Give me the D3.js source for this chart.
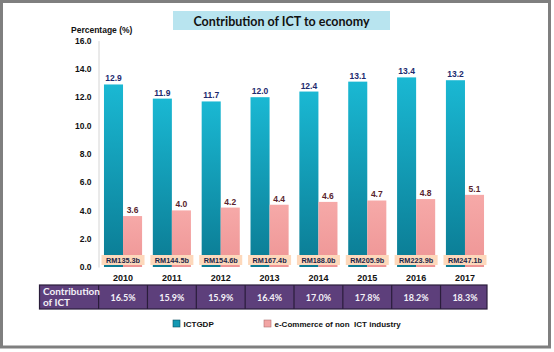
<!DOCTYPE html>
<html><head><meta charset="utf-8">
<script src="https://cdn.jsdelivr.net/npm/d3@7"></script>
<style>html,body{margin:0;padding:0;background:#fff;}svg{display:block;}</style>
</head><body>
<script>
const years = ["2010","2011","2012","2013","2014","2015","2016","2017"];
const ictgdp = [12.9,11.9,11.7,12.0,12.4,13.1,13.4,13.2];
const ecommerce = [3.6,4.0,4.2,4.4,4.6,4.7,4.8,5.1];
const rmLabels = ["RM135.3b","RM144.5b","RM154.6b","RM167.4b","RM188.0b","RM205.9b","RM223.9b","RM247.1b"];
const contribution = ["16.5%","15.9%","15.9%","16.4%","17.0%","17.8%","18.2%","18.3%"];
const yTicks = [0,2,4,6,8,10,12,14,16];
const seriesNames = ["ICTGDP","e-Commerce of non  ICT industry"];
const titleText = "Contribution of ICT to economy";
const yTitle = "Percentage (%)";
const rowTitle = ["Contribution","of ICT"];

const W = 554, H = 352;
const svg = d3.select("body").append("svg").attr("width", W).attr("height", H);
const defs = svg.append("defs");
const gT = defs.append("linearGradient").attr("id","gTeal").attr("x1",0).attr("y1",0).attr("x2",0).attr("y2",1);
gT.append("stop").attr("offset","0%").attr("stop-color","#1ab8d3");
gT.append("stop").attr("offset","100%").attr("stop-color","#0b7b93");
const gP = defs.append("linearGradient").attr("id","gPink").attr("x1",0).attr("y1",0).attr("x2",0).attr("y2",1);
gP.append("stop").attr("offset","0%").attr("stop-color","#f6a9a8");
gP.append("stop").attr("offset","100%").attr("stop-color","#ee9595");

svg.append("rect").attr("width",W).attr("height",H).attr("fill","#fff");
svg.append("rect").attr("x",1.5).attr("y",1.5).attr("width",548).attr("height",345.5)
  .attr("fill","none").attr("stroke","#7f7f7f").attr("stroke-width",3);

// title
svg.append("rect").attr("x",173).attr("y",11).attr("width",217).attr("height",19).attr("fill","#b8e4ef");
svg.append("text").attr("x",281.5).attr("y",25.5).attr("text-anchor","middle")
  .attr("font-family","Lato, 'Open Sans', sans-serif").attr("font-weight","bold").attr("font-size",13.5)
  .attr("textLength",176).attr("lengthAdjust","spacingAndGlyphs")
  .attr("fill","#111").text(titleText);

const x = d3.scaleBand().domain(years).range([98.6, 489.4]).paddingInner(0.22).paddingOuter(0.11);
const y = d3.scaleLinear().domain([0,16]).range([267, 40.6]);
const bw = x.bandwidth()/2;

// y axis
const yAxis = d3.axisLeft(y).tickValues(yTicks).tickFormat(d3.format(".1f")).tickSize(0).tickPadding(7);
const ya = svg.append("g").attr("transform","translate(98.5,0)").call(yAxis);
ya.select(".domain").attr("stroke","#d4d4d4").attr("stroke-width",1);
ya.selectAll("text").attr("font-family","'Liberation Sans', Arial, sans-serif").attr("font-weight","bold")
  .attr("font-size",8.5).attr("fill","#111");

svg.append("text").attr("x",71).attr("y",33).attr("font-family","'Liberation Sans', Arial, sans-serif")
  .attr("font-weight","bold").attr("font-size",8.5).attr("fill","#111").text(yTitle);

// bars
const g = svg.append("g");
g.selectAll("rect.t").data(years).join("rect").attr("class","t")
  .attr("x", d => x(d)).attr("width", bw)
  .attr("y", (d,i) => y(ictgdp[i])).attr("height", (d,i) => y(0) - y(ictgdp[i]))
  .attr("fill","url(#gTeal)");
g.selectAll("rect.p").data(years).join("rect").attr("class","p")
  .attr("x", d => x(d) + bw).attr("width", bw)
  .attr("y", (d,i) => y(ecommerce[i])).attr("height", (d,i) => y(0) - y(ecommerce[i]))
  .attr("fill","url(#gPink)");

g.selectAll("text.tv").data(years).join("text").attr("class","tv")
  .attr("x", d => x(d) + bw/2).attr("y", (d,i) => y(ictgdp[i]) - 3)
  .attr("text-anchor","middle").attr("font-family","'Liberation Sans', Arial, sans-serif")
  .attr("font-weight","bold").attr("font-size",8.5).attr("fill","#1d2a6e")
  .text((d,i) => d3.format(".1f")(ictgdp[i]));
g.selectAll("text.pv").data(years).join("text").attr("class","pv")
  .attr("x", d => x(d) + bw*1.5).attr("y", (d,i) => y(ecommerce[i]) - 3)
  .attr("text-anchor","middle").attr("font-family","'Liberation Sans', Arial, sans-serif")
  .attr("font-weight","bold").attr("font-size",8.5).attr("fill","#5a1f2e")
  .text((d,i) => d3.format(".1f")(ecommerce[i]));

// RM boxes
g.selectAll("rect.rm").data(years).join("rect").attr("class","rm")
  .attr("x", d => x(d) + bw - 21.5).attr("width", 43)
  .attr("y", 255).attr("height", 10).attr("fill","#fdd8bb");
g.selectAll("text.rm").data(years).join("text").attr("class","rm")
  .attr("x", d => x(d) + bw).attr("y", 263)
  .attr("text-anchor","middle").attr("font-family","'Liberation Sans', Arial, sans-serif")
  .attr("font-weight","bold").attr("font-size",7.3).attr("fill","#1c2547")
  .text((d,i) => rmLabels[i]);

// x labels
g.selectAll("text.yr").data(years).join("text").attr("class","yr")
  .attr("x", d => x(d) + bw).attr("y", 280.5)
  .attr("text-anchor","middle").attr("font-family","'Liberation Sans', Arial, sans-serif")
  .attr("font-weight","bold").attr("font-size",9).attr("fill","#111").text(d => d);

// table
const tTop = 285, tH = 24;
const step = x.step();
const tb = svg.append("g");
tb.append("rect").attr("x",39.5).attr("y",tTop).attr("width",487 - 39.5).attr("height",tH)
  .attr("fill","#5d3f7b").attr("stroke","#2a1d3b").attr("stroke-width",1.2);
tb.selectAll("line.div").data(years).join("line").attr("class","div")
  .attr("x1", d => x(d) + bw - step/2).attr("x2", d => x(d) + bw - step/2)
  .attr("y1", tTop).attr("y2", tTop + tH).attr("stroke","#2a1d3b").attr("stroke-width",1.2);
tb.selectAll("text.rt").data(rowTitle).join("text").attr("class","rt")
  .attr("x",43).attr("y",(d,i) => tTop + 10 + i*11)
  .attr("font-family","Lato, 'Open Sans', sans-serif").attr("font-weight","bold")
  .attr("font-size",10).attr("fill","#f3f0f7").text(d => d);
tb.selectAll("text.cv").data(years).join("text").attr("class","cv")
  .attr("x", d => x(d) + bw).attr("y", tTop + 15.5)
  .attr("text-anchor","middle").attr("font-family","Lato, 'Open Sans', sans-serif")
  .attr("font-weight","bold").attr("font-size",9).attr("fill","#f3f0f7")
  .text((d,i) => contribution[i]);

// legend
const lg = svg.append("g");
const legX = [173, 264];
const legFill = ["#1499b3", "#f2a5a4"];
const legStroke = ["#0b4f60", "#b07070"];
seriesNames.forEach((n,i) => {
  lg.append("rect").attr("x",legX[i]).attr("y",320).attr("width",7).attr("height",7)
    .attr("fill",legFill[i]).attr("stroke",legStroke[i]).attr("stroke-width",0.6);
  lg.append("text").attr("x",legX[i] + 10.5).attr("y",326.5)
    .attr("font-family","'Liberation Sans', Arial, sans-serif").attr("font-weight","bold")
    .attr("font-size",8).attr("fill","#111").attr("xml:space","preserve").style("white-space","pre").text(n);
});
</script>
</body></html>
